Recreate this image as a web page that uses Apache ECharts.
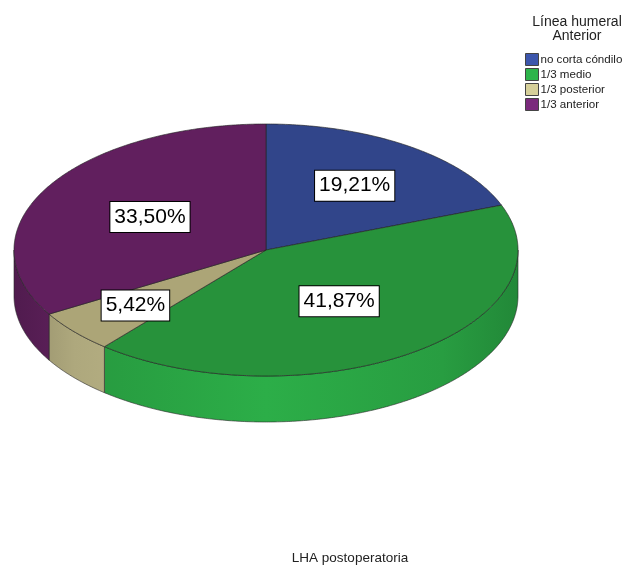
<!DOCTYPE html>
<html>
<head>
<meta charset="utf-8">
<script src="https://cdn.jsdelivr.net/npm/echarts@6.0.0/dist/echarts.min.js"></script>
<style>
  html, body { margin: 0; padding: 0; background: #ffffff; }
  #chart { width: 626px; height: 568px; }
</style>
</head>
<body>
<div id="chart"></div>
<script>
// Categories and their shares (percent of cases)
const categories = ['no corta cóndilo', '1/3 medio', '1/3 posterior', '1/3 anterior'];
const percentages = [19.21, 41.87, 5.42, 33.50];

const legendTitle = 'Línea humeral\nAnterior';
const chartTitle = 'LHA postoperatoria';

// Colours: legend swatch, lit top face, side wall
const baseColors = ['#3c56ac', '#2db44a', '#d6d09a', '#7a2a7c'];
const topColors  = ['#31458a', '#27923b', '#aca577', '#611f5e'];
const sideColors = ['#3a52a2', '#2cae48', '#c6bf8e', '#6c2569'];

// Tilted pie geometry (pixels)
const CX = 266, CY = 250, RX = 252, RY = 126, DEPTH = 46;
const labelRadius = [0.62, 0.50, 0.68, 0.53];

const total = percentages.reduce((a, b) => a + b, 0);
const startFrac = [];
percentages.reduce((acc, v, i) => { startFrac[i] = acc / total; return acc + v; }, 0);

function pt(theta, dy) {
  return [CX + RX * Math.sin(theta), CY - RY * Math.cos(theta) + (dy || 0)];
}
function arc(a0, a1, dy) {
  const n = Math.max(2, Math.ceil(Math.abs(a1 - a0) / (Math.PI / 360)));
  const pts = [];
  for (let k = 0; k <= n; k++) pts.push(pt(a0 + (a1 - a0) * k / n, dy));
  return pts;
}
function shade(hex, f) {
  const n = parseInt(hex.slice(1), 16);
  const c = [(n >> 16) & 255, (n >> 8) & 255, n & 255].map(v => Math.max(0, Math.min(255, Math.round(v * f))));
  return 'rgb(' + c.join(',') + ')';
}
function formatPct(v) {
  return v.toFixed(2).replace('.', ',') + '%';
}

function makeRenderItem(i) {
  return function (params, api) {
    const value = api.value(0);
    const a0 = startFrac[i] * Math.PI * 2;
    const a1 = a0 + value / total * Math.PI * 2;
    const children = [];

    // front wall, only where the rim faces the viewer
    const s = Math.max(a0, Math.PI / 2), e = Math.min(a1, Math.PI * 1.5);
    if (s < e) {
      const wall = arc(s, e, 0).concat(arc(e, s, DEPTH));
      children.push({
        type: 'polygon',
        shape: { points: wall },
        style: {
          fill: {
            type: 'linear', x: CX - RX, y: 0, x2: CX + RX, y2: 0, global: true,
            colorStops: [
              { offset: 0, color: shade(sideColors[i], 0.74) },
              { offset: 0.12, color: shade(sideColors[i], 0.88) },
              { offset: 0.5, color: shade(sideColors[i], 1.0) },
              { offset: 0.85, color: shade(sideColors[i], 0.9) },
              { offset: 1, color: shade(sideColors[i], 0.78) }
            ]
          },
          stroke: 'rgba(40,40,40,0.75)',
          lineWidth: 0.8
        }
      });
    }

    // top face
    const top = [[CX, CY]].concat(arc(a0, a1, 0));
    children.push({
      type: 'polygon',
      shape: { points: top },
      style: { fill: topColors[i], stroke: 'rgba(35,35,35,0.8)', lineWidth: 0.8 }
    });

    // value label
    const mid = (a0 + a1) / 2;
    const lp = [CX + RX * labelRadius[i] * Math.sin(mid), CY - RY * labelRadius[i] * Math.cos(mid)];
    children.push({
      type: 'text',
      z2: 100,
      style: {
        text: formatPct(value),
        x: lp[0], y: lp[1],
        align: 'center', verticalAlign: 'middle',
        font: '21px "Liberation Sans", Arial, sans-serif',
        fill: '#000',
        backgroundColor: '#ffffff',
        borderColor: '#000000',
        borderWidth: 1,
        padding: [5, 4, 4, 4]
      }
    });
    return { type: 'group', children: children };
  };
}

const series = categories.map((name, i) => ({
  type: 'custom',
  name: name,
  coordinateSystem: 'none',
  silent: true,
  itemStyle: { color: baseColors[i] },
  data: [[percentages[i]]],
  renderItem: makeRenderItem(i)
}));

const chart = echarts.init(document.getElementById('chart'), null, { renderer: 'canvas' });
chart.setOption({
  animation: false,
  backgroundColor: '#ffffff',
  color: baseColors,
  legend: {
    orient: 'vertical',
    left: 525,
    top: 53,
    padding: 0,
    icon: 'rect',
    itemWidth: 13,
    itemHeight: 12,
    itemGap: 2,
    selectedMode: false,
    itemStyle: { borderColor: '#444', borderWidth: 1 },
    textStyle: { fontFamily: '"Liberation Sans", Arial, sans-serif', fontSize: 11.6, color: '#222', padding: [0, 0, 0, -3] },
    data: categories
  },
  graphic: [
    {
      type: 'text',
      style: {
        text: legendTitle,
        x: 577, y: 15,
        align: 'center',
        font: '14px "Liberation Sans", Arial, sans-serif',
        lineHeight: 14,
        fill: '#222'
      }
    },
    {
      type: 'text',
      style: {
        text: chartTitle,
        x: 350, y: 558,
        align: 'center', verticalAlign: 'middle',
        font: '13.5px "Liberation Sans", Arial, sans-serif',
        fill: '#222'
      }
    }
  ],
  series: series
});
</script>
</body>
</html>
